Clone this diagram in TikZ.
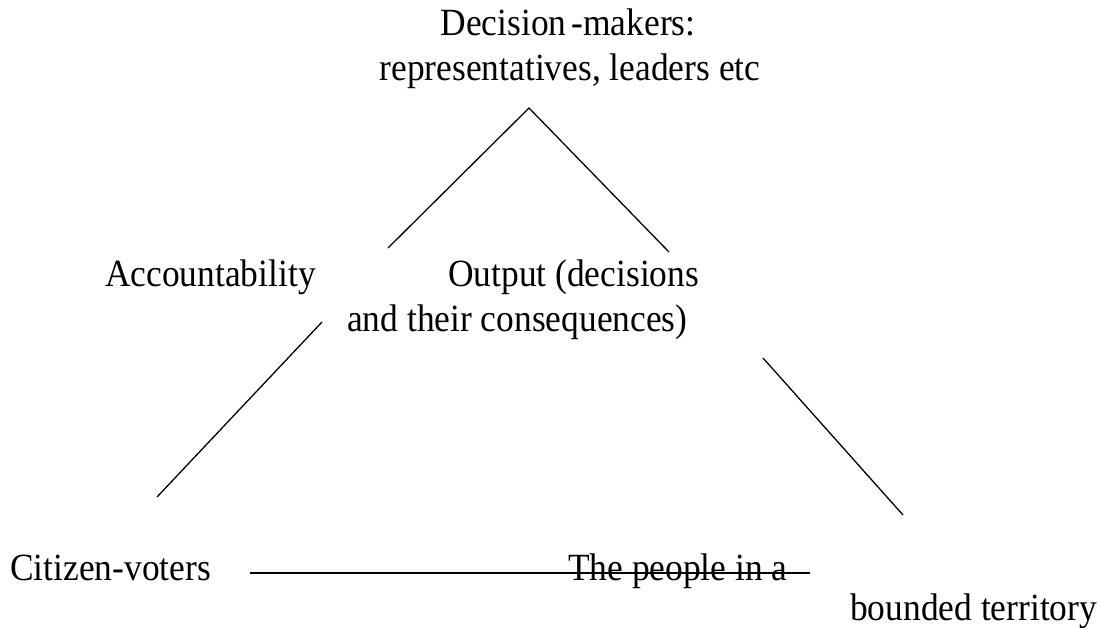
\documentclass[tikz,border=0pt]{standalone}
\usepackage{fontspec}
\setmainfont{Liberation Serif}[FakeStretch=0.92]
\begin{document}
\begin{tikzpicture}[x=1pt,y=-1pt,
  lbl/.style={inner sep=0pt,anchor=base west,font=\fontsize{38.5}{46}\selectfont},
  edge/.style={line width=1.3pt},
  baseedge/.style={line width=2pt}]
\useasboundingbox (0,0) rectangle (1101,627);
% labels
\node[lbl,anchor=base] (dm1) at (568,35) {Decision\kern5pt-makers:};
\node[lbl,anchor=base] (dm2) at (570,80) {representatives, leaders etc};
\node[lbl] (acc) at (105,286) {Accountability};
\node[lbl] (out1) at (448,286) {Output (decisions};
\node[lbl] (out2) at (347,331) {and their consequences)};
\node[lbl] (cit) at (10,580) {Citizen-voters};
\node[lbl] (ppl1) at (568,580) {The people in a};
\node[lbl] (ppl2) at (850,620) {bounded territory};
% line end points
\coordinate (apex) at (529,108);
\coordinate (al) at (388,248);
\coordinate (ar) at (669,252);
\coordinate (ll1) at (322,322);
\coordinate (ll2) at (157,497);
\coordinate (rl1) at (763,358);
\coordinate (rl2) at (903,515);
\coordinate (b1) at (250,573);
\coordinate (b2) at (810,573);
% connectors
\draw[edge] (al) -- (apex) -- (ar);
\draw[edge] (ll1) -- (ll2);
\draw[edge] (rl1) -- (rl2);
\draw[baseedge] (b1) -- (b2);
\end{tikzpicture}
\end{document}
